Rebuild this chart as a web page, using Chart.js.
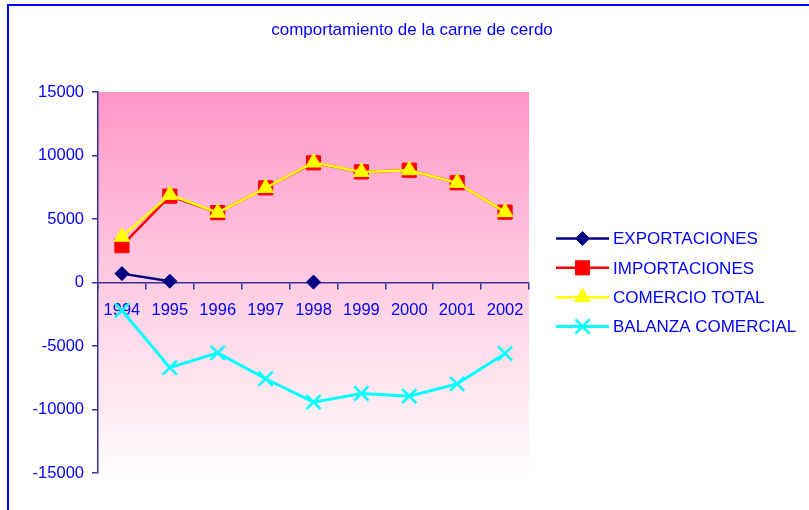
<!DOCTYPE html>
<html>
<head>
<meta charset="utf-8">
<script src="https://cdn.jsdelivr.net/npm/chart.js@4/dist/chart.umd.min.js"></script>
<style>
  body { margin: 0; background: #ffffff; }
  #cadre { position: absolute; left: 7px; top: 4px; width: 820px; height: 520px;
           border-top: 2px solid #0000ff; border-left: 2px solid #0000ff; }
  #zone { position: absolute; left: 0; top: 0; width: 809px; height: 510px; }
</style>
</head>
<body>
<div id="cadre"></div>
<div id="zone"><canvas id="graficoCerdo" width="809" height="510"></canvas></div>
<script>
// datos
var anios = ['1994', '1995', '1996', '1997', '1998', '1999', '2000', '2001', '2002'];
var exportaciones = [700, 100, null, null, 30, null, null, null, null];
var importaciones = [2900, 6800, 5500, 7450, 9420, 8710, 8840, 7850, 5540];
var comercioTotal = [3600, 6900, 5500, 7450, 9450, 8710, 8840, 7850, 5540];
var balanza = [-2200, -6700, -5540, -7580, -9420, -8740, -8950, -7980, -5590];
var ticksY = [-15000, -10000, -5000, 0, 5000, 10000, 15000];
var titulo = 'comportamiento de la carne de cerdo';

var azulTexto = '#0000ff';
var colorEje = '#333399';
var fuente = "Arial, 'Liberation Sans', sans-serif";

// fondo degradado rosa (antes de los ejes) + titulo
var fondo = {
    id: 'fondo',
    beforeDraw: function (chart) {
        var ctx = chart.ctx;
        var a = chart.chartArea;
        var g = ctx.createLinearGradient(0, a.top, 0, a.bottom);
        g.addColorStop(0, '#ff96c8');
        g.addColorStop(0.5, '#ffcce2');
        g.addColorStop(1, '#fffcfd');
        ctx.save();
        ctx.fillStyle = g;
        ctx.fillRect(a.left, a.top, a.right - a.left, a.bottom - a.top);
        ctx.restore();
    },
    afterDraw: function (chart) {
        var ctx = chart.ctx;
        ctx.save();
        ctx.fillStyle = azulTexto;
        ctx.font = '17px ' + fuente;
        ctx.textAlign = 'center';
        ctx.textBaseline = 'middle';
        ctx.fillText(titulo, 412, 30);
        ctx.restore();
    }
};

// leyenda con linea + marcador
var leyenda = {
    id: 'leyenda',
    afterDraw: function (chart) {
        var ctx = chart.ctx;
        var a = chart.chartArea;
        var x0 = a.right + 27;
        var centro = (a.top + a.bottom) / 2;
        var paso = 29.3;
        var ds = chart.data.datasets;
        ctx.save();
        for (var i = 0; i < ds.length; i++) {
            var y = centro + (i - (ds.length - 1) / 2) * paso;
            ctx.strokeStyle = ds[i].borderColor;
            ctx.lineWidth = ds[i].borderWidth;
            ctx.beginPath();
            ctx.moveTo(x0, y);
            ctx.lineTo(x0 + 53, y);
            ctx.stroke();
            ctx.fillStyle = ds[i].pointBackgroundColor;
            ctx.strokeStyle = ds[i].pointBorderColor;
            ctx.lineWidth = ds[i].pointBorderWidth;
            Chart.helpers.drawPoint(ctx, {
                pointStyle: ds[i].pointStyle,
                radius: ds[i].pointRadius,
                rotation: 0,
                borderWidth: ds[i].pointBorderWidth
            }, x0 + 26.5, y);
            ctx.fillStyle = azulTexto;
            ctx.font = '17px ' + fuente;
            ctx.textAlign = 'left';
            ctx.textBaseline = 'middle';
            ctx.fillText(ds[i].label, x0 + 57, y + 1);
        }
        ctx.restore();
    }
};

function serie(nombre, datos, color, estilo, radio, ancho, orden) {
    return {
        label: nombre,
        data: datos,
        borderColor: color,
        backgroundColor: color,
        borderWidth: ancho,
        pointStyle: estilo,
        pointRadius: radio,
        pointHoverRadius: radio,
        pointBackgroundColor: color,
        pointBorderColor: color,
        pointBorderWidth: estilo == 'crossRot' ? 2.5 : 1,
        tension: 0,
        spanGaps: false,
        order: orden
    };
}

var config = {
    type: 'line',
    data: {
        labels: anios,
        datasets: [
            serie('EXPORTACIONES', exportaciones, '#000080', 'rectRot', 7, 2.5, 0),
            serie('IMPORTACIONES', importaciones, '#ff0000', 'rect', 10, 2.5, 2),
            serie('COMERCIO TOTAL', comercioTotal, '#ffff00', 'triangle', 9, 2.5, 1),
            serie('BALANZA COMERCIAL', balanza, '#00ffff', 'crossRot', 10, 3, 3)
        ]
    },
    options: {
        responsive: false,
        animation: false,
        events: [],
        clip: false,
        layout: { padding: { left: 16, right: 280, top: 92, bottom: 37 } },
        plugins: {
            legend: { display: false },
            tooltip: { enabled: false },
            title: { display: false }
        },
        scales: {
            x: {
                type: 'category',
                position: { y: 0 },
                offset: true,
                grid: { offset: true, drawOnChartArea: false, drawTicks: true, tickLength: 6, color: colorEje, lineWidth: 1.5 },
                border: { display: true, color: colorEje, width: 1.5 },
                ticks: { color: azulTexto, font: { family: fuente, size: 16.5 }, padding: 12, maxRotation: 0, autoSkip: false }
            },
            y: {
                position: 'left',
                min: -15000,
                max: 15000,
                afterBuildTicks: function (scale) {
                    scale.ticks = ticksY.map(function (v) { return { value: v }; });
                },
                grid: { drawOnChartArea: false, drawTicks: true, tickLength: 6, color: colorEje, lineWidth: 1.5 },
                border: { display: true, color: colorEje, width: 1.5 },
                ticks: {
                    color: azulTexto, font: { family: fuente, size: 16.5 }, padding: 8,
                    callback: function (v) { return String(v); }
                },
                afterFit: function (scale) { scale.width = 82; }
            }
        }
    },
    plugins: [fondo, leyenda]
};

var grafico = new Chart(document.getElementById('graficoCerdo'), config);
</script>
</body>
</html>
